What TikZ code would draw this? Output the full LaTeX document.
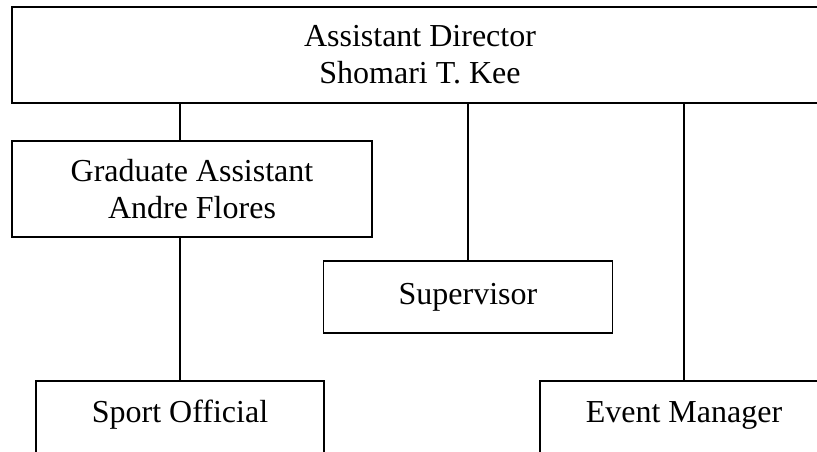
\documentclass[tikz,border=0pt]{standalone}
\usepackage{fontspec}
\setmainfont{Liberation Serif}
\begin{document}
\begin{tikzpicture}[x=1pt,y=-1pt,
  box/.style={draw, line width=1.9pt, inner sep=0pt, align=center, font=\fontsize{32}{37}\selectfont},
  lbl/.style={inner sep=0pt, font=\fontsize{32}{37}\selectfont},
  conn/.style={line width=1.9pt}]
\useasboundingbox (0,0) rectangle (817,451);
\clip (0,0) rectangle (817,451);
\node[box, minimum width=289pt, minimum height=72pt] (sup) at (468,297) {Supervisor};
\node[box, minimum width=816pt, minimum height=96pt] (ad) at (420,55) {Assistant Director\\Shomari T. Kee};
\node[box, minimum width=360pt, minimum height=96pt] (ga) at (192,189) {Graduate Assistant\\Andre Flores};
\node[box, minimum width=288pt, minimum height=110pt, anchor=north] (so) at (180,380) {};
\node[lbl, anchor=base] (sot) at (180,422) {Sport Official};
\node[box, minimum width=288pt, minimum height=110pt, anchor=north] (em) at (684,380) {};
\node[lbl, anchor=base] (emt) at (684,422) {Event Manager};
\draw[conn] (ad.south -| so.north) -- (ga.north -| so.north);
\draw[conn] (ga.south -| so.north) -- (so.north);
\draw[conn] (ad.south -| sup.north) -- (sup.north);
\draw[conn] (ad.south -| em.north) -- (em.north);
\end{tikzpicture}
\end{document}
